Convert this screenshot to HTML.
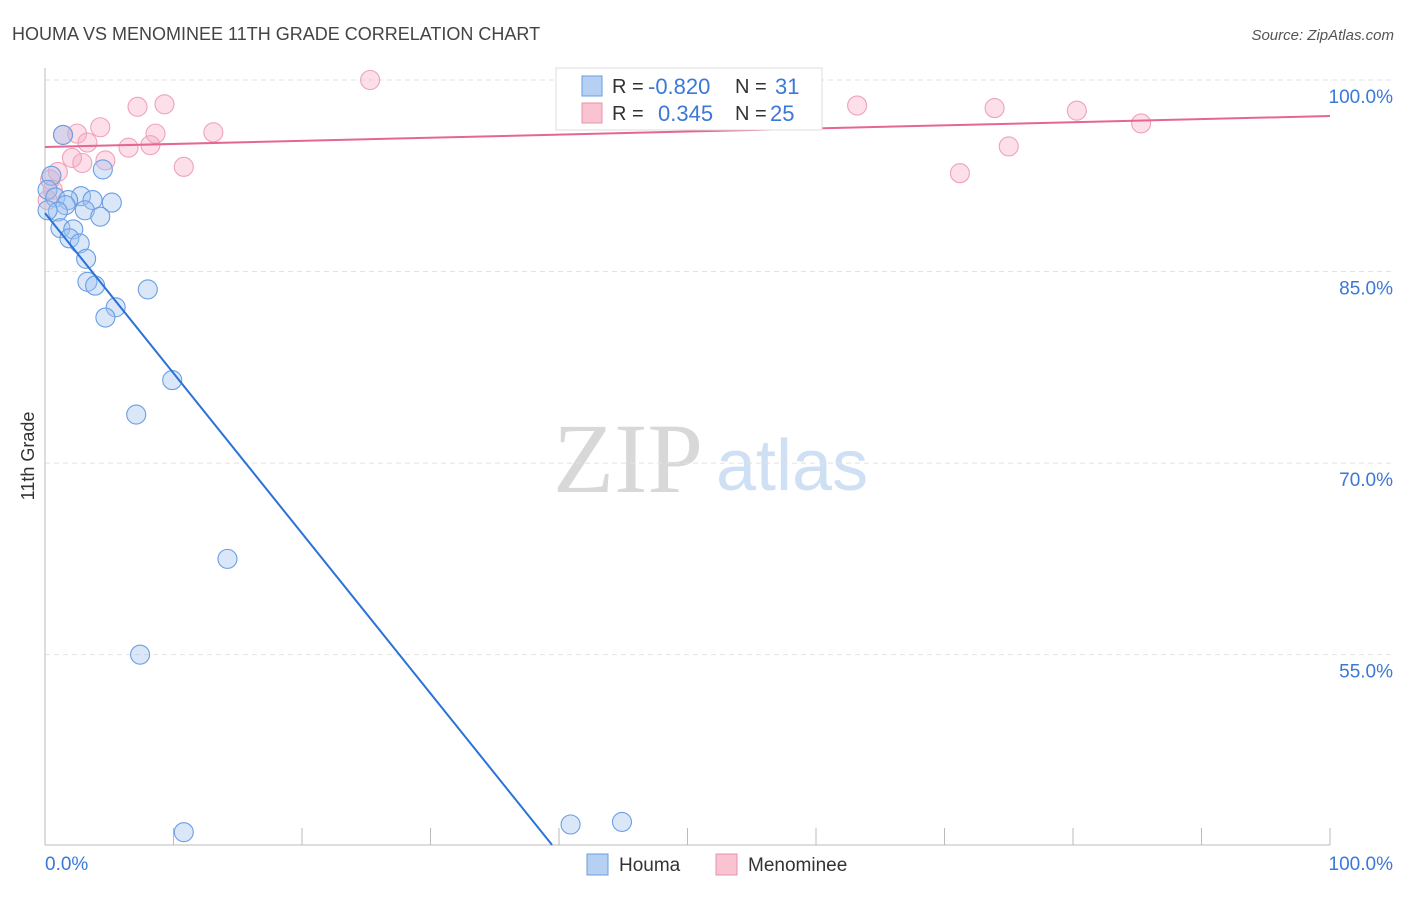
<!DOCTYPE html>
<html><head><meta charset="utf-8"><style>
body{margin:0;background:#fff;font-family:"Liberation Sans",sans-serif;}
svg text{font-family:"Liberation Sans",sans-serif;}
</style></head><body>
<svg width="1406" height="892" viewBox="0 0 1406 892" id="chart">
<text x="12" y="40" font-size="18" fill="#444">HOUMA VS MENOMINEE 11TH GRADE CORRELATION CHART</text>
<text x="1394" y="40" font-size="15" fill="#555" font-style="italic" text-anchor="end">Source: ZipAtlas.com</text>
<text x="34" y="456" font-size="18" fill="#333" text-anchor="middle" transform="rotate(-90 34 456)">11th Grade</text>
<text x="553" y="492" font-size="100" fill="#d8d8d8" style="font-family:'Liberation Serif',serif">ZIP</text>
<text x="716" y="490" font-size="72" fill="#cfe0f5">atlas</text>
<g id="grid"></g><g id="axes"></g><g id="pts"></g><g id="lines"></g>
<g>
<rect x="556" y="68" width="266" height="62" fill="#fff" stroke="#ddd"/>
<rect x="582" y="76" width="20" height="20" fill="#b5d0f3" stroke="#6a9ee0"/>
<text x="612" y="93" font-size="20" fill="#333">R = </text><text x="648" y="94" font-size="22" fill="#3b78d8">-0.820</text>
<text x="735" y="93" font-size="20" fill="#333">N = </text><text x="775" y="94" font-size="22" fill="#3b78d8">31</text>
<rect x="582" y="103" width="20" height="20" fill="#f9c3d2" stroke="#e891ab"/>
<text x="612" y="120" font-size="20" fill="#333">R = </text><text x="658" y="121" font-size="22" fill="#3b78d8">0.345</text>
<text x="735" y="120" font-size="20" fill="#333">N = </text><text x="770" y="121" font-size="22" fill="#3b78d8">25</text>
</g>
<g>
<rect x="587" y="854" width="21" height="21" fill="#b5d0f3" stroke="#6a9ee0"/>
<text x="619" y="871" font-size="19" fill="#333">Houma</text>
<rect x="716" y="854" width="21" height="21" fill="#f9c3d2" stroke="#e891ab"/>
<text x="748" y="871" font-size="19" fill="#333">Menominee</text>
</g>
</svg>
<script>
const yTicks=[100,85,70,55];
const yTickLabels=["100.0%","85.0%","70.0%","55.0%"];
const houmaX=[1.4,4.5,0.5,0.2,0.8,2.8,1.8,3.7,5.2,1.6,1.0,3.1,4.3,1.2,2.2,1.9,2.7,3.2,3.3,3.9,5.5,8.0,4.7,9.9,7.1,14.2,7.4,10.8,40.9,44.9,0.2];
const houmaY=[95.7,93.0,92.5,91.4,90.8,90.9,90.6,90.6,90.4,90.2,89.7,89.8,89.3,88.4,88.3,87.6,87.2,86.0,84.2,83.9,82.2,83.6,81.4,76.5,73.8,62.5,55.0,41.1,41.7,41.9,89.8];
const menX=[25.3,9.3,7.2,63.2,73.9,80.3,4.3,1.4,2.5,8.6,13.1,85.3,3.3,8.2,6.5,75.0,2.1,4.7,2.9,10.8,71.2,1.0,0.4,0.6,0.2];
const menY=[100.0,98.1,97.9,98.0,97.8,97.6,96.3,95.7,95.8,95.8,95.9,96.6,95.1,94.9,94.7,94.8,93.9,93.7,93.5,93.2,92.7,92.8,92.2,91.4,90.6];
const houmaTrend=[89.58,-1.254];
const menTrend=[94.75,97.18];
const X=v=>45+v*12.85, Y=v=>80+(100-v)*12.77;
const NS="http://www.w3.org/2000/svg";
function mk(t,a,p){const e=document.createElementNS(NS,t);for(const k in a)e.setAttribute(k,a[k]);p.appendChild(e);return e;}
const grid=document.getElementById('grid'),axes=document.getElementById('axes'),pts=document.getElementById('pts'),lines=document.getElementById('lines');
yTicks.forEach((t,i)=>{
const l=mk('line',{x1:45,x2:1394,y1:Y(t),y2:Y(t),stroke:'#e2e2e2','stroke-dasharray':'5,4'},grid);


const tx=mk('text',{x:1393,y:Y(t)+23,'font-size':19,fill:'#3b78d8','text-anchor':'end'},grid);
tx.textContent=yTickLabels[i];


});
const ya=mk('line',{x1:45,x2:45,y1:68,y2:845,stroke:'#bbb'},axes);


const xa=mk('line',{x1:45,x2:1330,y1:845,y2:845,stroke:'#bbb'},axes);


for(let i=0;i<=10;i++){const tk=mk('line',{x1:X(i*10),x2:X(i*10),y1:828,y2:845,stroke:'#bbb'},axes);

}
const xl0=mk('text',{x:45,y:870,'font-size':19,fill:'#3b78d8'},axes);xl0.textContent='0.0%';


const xl1=mk('text',{x:1393,y:870,'font-size':19,fill:'#3b78d8','text-anchor':'end'},axes);xl1.textContent='100.0%';


menX.forEach((v,i)=>{const c=mk('circle',{cx:X(v),cy:Y(menY[i]),r:9.5,fill:'rgba(246,170,195,0.38)',stroke:'#eea3ba','stroke-width':1.1},pts);

});
houmaX.forEach((v,i)=>{const c=mk('circle',{cx:X(v),cy:Y(houmaY[i]),r:9.5,fill:'rgba(160,195,240,0.4)',stroke:'#6a9ee4','stroke-width':1.1},pts);

});
const xEnd=(40.1-houmaTrend[0])/houmaTrend[1];
const bl=mk('line',{x1:X(0),y1:Y(houmaTrend[0]),x2:X(xEnd),y2:Y(40.1),stroke:'#2a72d8','stroke-width':2},lines);


const pl=mk('line',{x1:X(0),y1:Y(menTrend[0]),x2:X(100),y2:Y(menTrend[1]),stroke:'#e5678f','stroke-width':2},lines);


</script>
</body></html>
